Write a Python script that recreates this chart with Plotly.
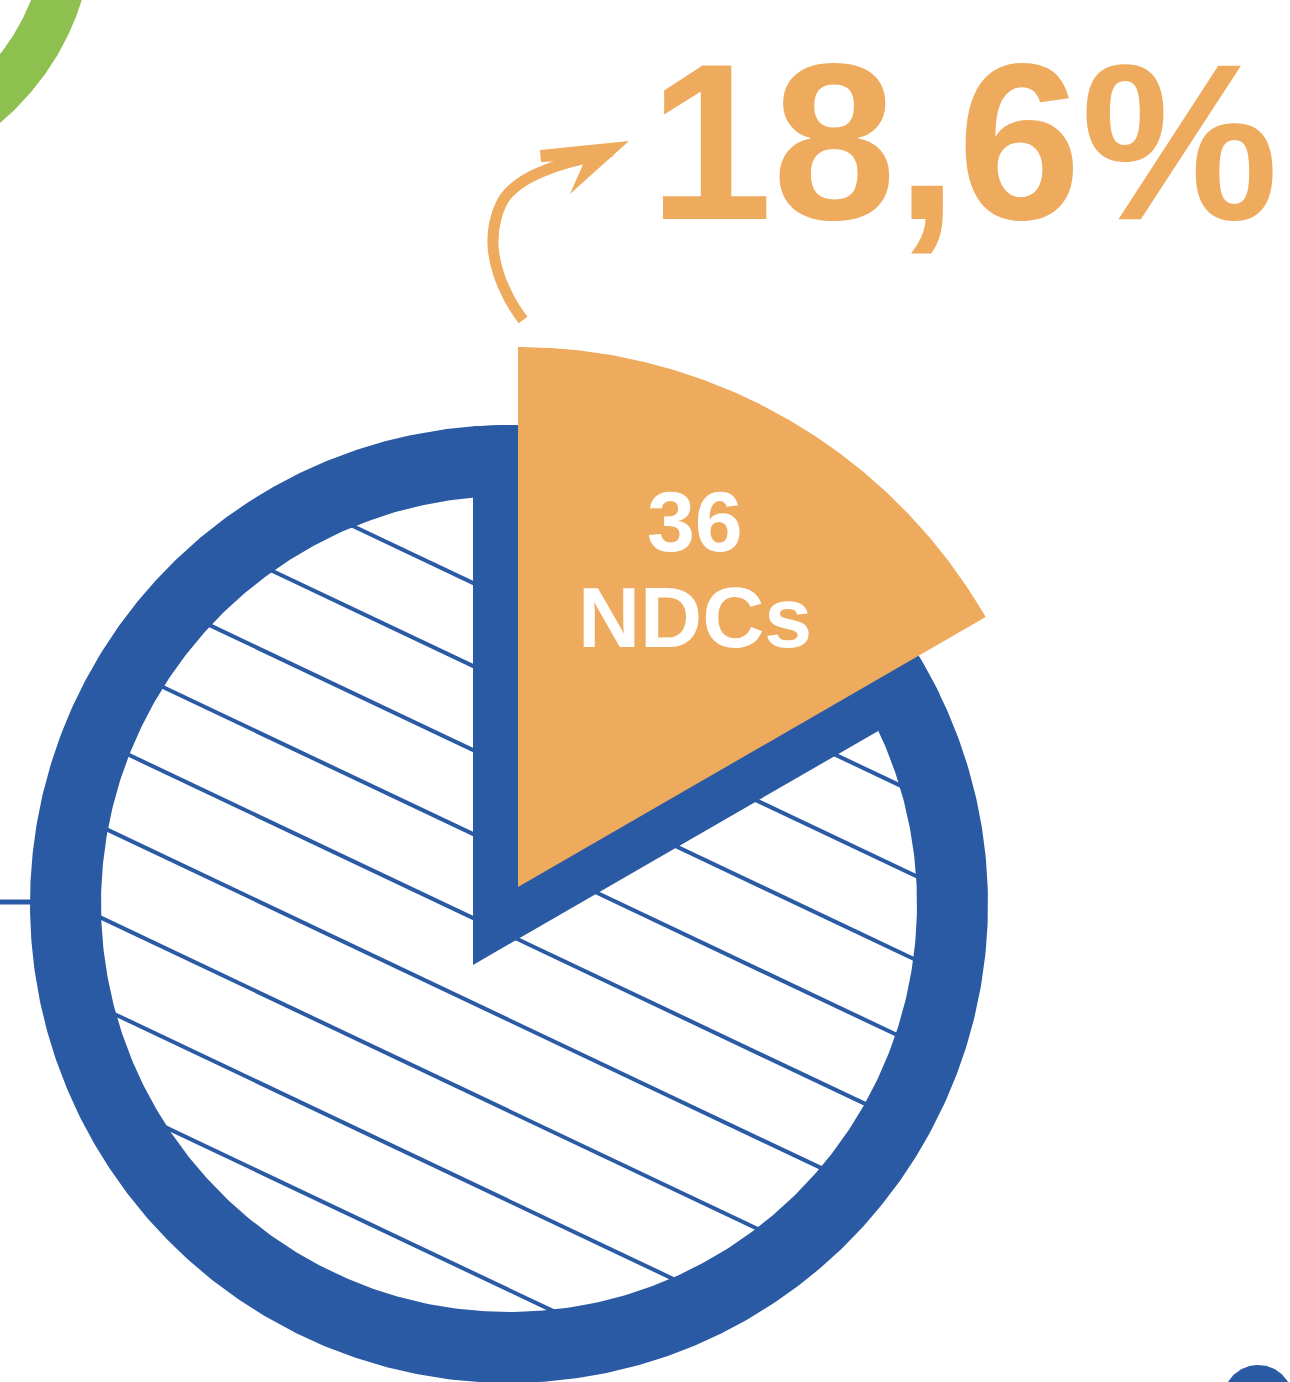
import numpy as np
import plotly.graph_objects as go

# ---------------- data ----------------
slice_labels = ["36", "NDCs"]          # label printed inside the highlighted slice
slice_counts = [36]                     # number of NDCs in the highlighted slice
slice_share_pct = [18.6]                # share of the highlighted slice (%)
headline_text = ["18,6%"]               # handwritten headline

# ---------------- style / layout ----------------
W, H = 1290, 1382
BLUE = "#2B5AA5"
ORANGE = "#EEAB5D"
GREEN = "#8DC04F"
WHITE = "#FFFFFF"

CX, CY = 509, 904          # pie centre (px)
R_OUT, R_IN = 479, 408     # ring radii
PULL_APEX = (518, 887)     # apex of pulled-out slice
PULL_R = 540               # radius of pulled-out slice
SWEEP_DEG = 60             # drawn sweep of the highlighted slice (not to scale in source)
GAP = 45                   # blue border between slice and hatched area
HATCH_SLOPE = 0.474
HATCH_Y_AT_473 = [583, 666, 750, 834, 918, 1003, 1094, 1184, 1273]


def compass(cx, cy, r, phi):
    """phi in radians measured clockwise from north, screen coords (y down)."""
    return cx + r * np.sin(phi), cy - r * np.cos(phi)


def ray_circle(p, d, c, r):
    px, py = p
    dx, dy = d
    fx, fy = px - c[0], py - c[1]
    b = 2 * (fx * dx + fy * dy)
    cc = fx * fx + fy * fy - r * r
    disc = b * b - 4 * cc
    t = (-b + np.sqrt(disc)) / 2
    return px + t * dx, py + t * dy


fig = go.Figure()


def add_poly(xs, ys, color):
    fig.add_trace(go.Scatter(x=list(xs), y=list(ys), mode="lines", fill="toself",
                             fillcolor=color, line=dict(width=0, color=color),
                             hoverinfo="skip", showlegend=False))


def annulus(cx, cy, r1, r2, n=720):
    a = np.linspace(0, 2 * np.pi, n)
    xo, yo = compass(cx, cy, r1, a)
    xi, yi = compass(cx, cy, r2, a[::-1])
    return np.concatenate([xo, xi]), np.concatenate([yo, yi])


# green ring (partially visible, top-left)
gx, gy = annulus(-170, -79, 264, 216)
add_poly(gx, gy, GREEN)

# blue connector line on the left
fig.add_trace(go.Scatter(x=[0, 35], y=[902, 902], mode="lines",
                         line=dict(color=BLUE, width=5), hoverinfo="skip", showlegend=False))

# hatch lines inside the pie
theta = np.arctan(HATCH_SLOPE)
d = (np.cos(theta), np.sin(theta))
hx, hy = [], []
for y0 in HATCH_Y_AT_473:
    p = (473.0, float(y0))
    x1, y1 = ray_circle(p, d, (CX, CY), R_IN + 4)
    x2, y2 = ray_circle(p, (-d[0], -d[1]), (CX, CY), R_IN + 4)
    hx += [x2, x1, None]
    hy += [y2, y1, None]
fig.add_trace(go.Scatter(x=hx, y=hy, mode="lines", line=dict(color=BLUE, width=4),
                         hoverinfo="skip", showlegend=False))

# blue ring
rx, ry = annulus(CX, CY, R_OUT, R_IN)
add_poly(rx, ry, BLUE)

# blue notch border around the removed slice
sweep = np.radians(SWEEP_DEG)
half = sweep / 2
off = GAP / np.sin(half)
nax = PULL_APEX[0] - off * np.sin(half)
nay = PULL_APEX[1] + off * np.cos(half)
p_top = ray_circle((nax, nay), (0.0, -1.0), (CX, CY), R_OUT)
p_diag = ray_circle((nax, nay), (np.sin(sweep), -np.cos(sweep)), (CX, CY), R_OUT)
a_top = np.arctan2(p_top[0] - CX, -(p_top[1] - CY))
a_diag = np.arctan2(p_diag[0] - CX, -(p_diag[1] - CY))
arc = np.linspace(a_top, a_diag, 200)
ax_, ay_ = compass(CX, CY, R_OUT, arc)
add_poly(np.concatenate([[nax], ax_, [nax]]), np.concatenate([[nay], ay_, [nay]]), BLUE)

# highlighted (pulled-out) slice
arc = np.linspace(0, sweep, 200)
wx, wy = compass(PULL_APEX[0], PULL_APEX[1], PULL_R, arc)
add_poly(np.concatenate([[PULL_APEX[0]], wx, [PULL_APEX[0]]]),
         np.concatenate([[PULL_APEX[1]], wy, [PULL_APEX[1]]]), ORANGE)

# small blue dot bottom-right
a = np.linspace(0, 2 * np.pi, 200)
dx_, dy_ = compass(1258, 1400, 35, a)
add_poly(dx_, dy_, BLUE)

# curved arrow
shaft_x = [523, 510, 498, 493, 496, 506, 525, 554, 590, 612]
shaft_y = [320, 300, 272, 245, 218, 196, 180, 167, 157, 151]
fig.add_trace(go.Scatter(x=shaft_x, y=shaft_y, mode="lines",
                         line=dict(color=ORANGE, width=11, shape="spline"),
                         hoverinfo="skip", showlegend=False))
add_poly([629, 540, 541, 585, 570, 629], [141, 150, 162, 160, 194, 141], ORANGE)

annotations = [
    dict(x=695, y=521, text=slice_labels[0], showarrow=False, xref="x", yref="y",
         font=dict(family="Liberation Sans, Arial", size=86, color=WHITE, weight=700)),
    dict(x=695, y=617, text=slice_labels[1], showarrow=False, xref="x", yref="y",
         font=dict(family="Liberation Sans, Arial", size=86, color=WHITE, weight=700)),
    dict(x=963, y=142, text=headline_text[0], showarrow=False, xref="x", yref="y",
         font=dict(family="Liberation Sans, Arial", size=222, color=ORANGE, weight=700)),
]

fig.update_layout(
    width=W, height=H, margin=dict(l=0, r=0, t=0, b=0),
    paper_bgcolor=WHITE, plot_bgcolor=WHITE,
    xaxis=dict(range=[0, W], visible=False, fixedrange=True),
    yaxis=dict(range=[H, 0], visible=False, fixedrange=True),
    annotations=annotations, showlegend=False,
)

fig.write_html("out.html", post_script="document.body.style.margin='0';",
               config={"displayModeBar": False})
